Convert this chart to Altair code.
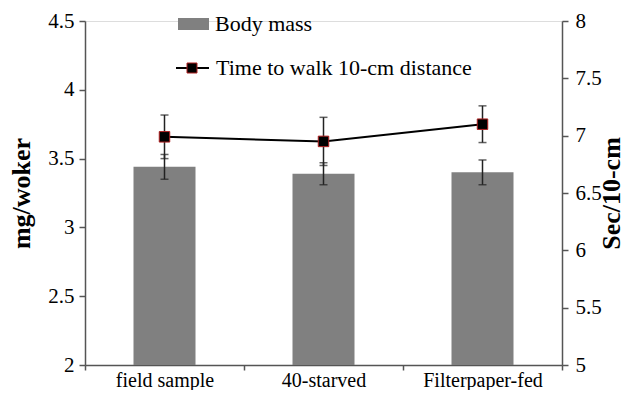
import altair as alt
import pandas as pd

categories = ["field sample", "40-starved", "Filterpaper-fed"]
body_mass = [3.44, 3.39, 3.40]
body_mass_err = [0.09, 0.08, 0.09]
walk_time = [6.99, 6.95, 7.10]
walk_time_err = [0.19, 0.21, 0.16]
legend_labels = ["Body mass", "Time to walk 10-cm distance"]

df = pd.DataFrame({
    "cat": categories,
    "bm": body_mass,
    "bm_lo": [v - e for v, e in zip(body_mass, body_mass_err)],
    "bm_hi": [v + e for v, e in zip(body_mass, body_mass_err)],
    "wt": walk_time,
    "wt_lo": [v - e for v, e in zip(walk_time, walk_time_err)],
    "wt_hi": [v + e for v, e in zip(walk_time, walk_time_err)],
})

FONT = "Liberation Serif"
AXC = "#555555"
ERR = "#222222"

x = alt.X("cat:N", sort=categories,
          scale=alt.Scale(paddingInner=0, paddingOuter=0),
          axis=alt.Axis(title=None, labelAngle=0, tickBand="extent",
                        labelFont=FONT, labelFontSize=20, labelColor="black",
                        labelPadding=0, tickSize=5, domainColor=AXC,
                        tickColor=AXC, domainWidth=1.5, tickWidth=1.5))

yl_scale = alt.Scale(domain=[2, 4.5], zero=False, nice=False)
yr_scale = alt.Scale(domain=[5, 8], zero=False, nice=False)

yl_axis = alt.Axis(title="mg/woker", orient="left", values=[2, 2.5, 3, 3.5, 4, 4.5],
                   format="~g",
                   labelFont=FONT, labelFontSize=21, labelColor="black",
                   titleFont=FONT, titleFontSize=26, titleFontWeight="bold",
                   titleColor="black", titleX=-51, tickSize=6, labelPadding=5,
                   domainColor=AXC, tickColor=AXC, domainWidth=1.5, tickWidth=1.5,
                   grid=False)
yr_axis = alt.Axis(title="Sec/10-cm", orient="right", values=[5, 5.5, 6, 6.5, 7, 7.5, 8],
                   format="~g",
                   labelFont=FONT, labelFontSize=21, labelColor="black",
                   titleFont=FONT, titleFontSize=26, titleFontWeight="bold",
                   titleColor="black", titleAngle=270, titleBaseline="bottom",
                   titleX=62, tickSize=6, labelPadding=7,
                   domainColor=AXC, tickColor=AXC, domainWidth=1.5, tickWidth=1.5,
                   grid=False)

base = alt.Chart(df)

bars = base.mark_bar(color="#808080", width=62).encode(
    x=x,
    y=alt.Y("bm:Q", scale=yl_scale, axis=yl_axis),
    y2=alt.Y2(datum=2),
)
bm_rule = base.mark_rule(color=ERR, strokeWidth=1.5).encode(
    x=x, y=alt.Y("bm_lo:Q", scale=yl_scale), y2="bm_hi:Q")
bm_cap_lo = base.mark_tick(color=ERR, size=8, thickness=1.5).encode(
    x=x, y=alt.Y("bm_lo:Q", scale=yl_scale))
bm_cap_hi = base.mark_tick(color=ERR, size=8, thickness=1.5).encode(
    x=x, y=alt.Y("bm_hi:Q", scale=yl_scale))

leg_df = pd.DataFrame({"label": legend_labels})
leg_rect = alt.Chart(leg_df.iloc[:1]).mark_rect(color="#808080").encode(
    x=alt.value(93), x2=alt.value(124), y=alt.value(-3), y2=alt.value(9))
leg_text1 = alt.Chart(leg_df.iloc[:1]).mark_text(
    align="left", baseline="middle", font=FONT, fontSize=22, color="black").encode(
    x=alt.value(130), y=alt.value(3), text="label:N")
leg_rule = alt.Chart(leg_df.iloc[1:]).mark_rule(color="black", strokeWidth=2).encode(
    x=alt.value(91), x2=alt.value(124), y=alt.value(47))
leg_sq = alt.Chart(leg_df.iloc[1:]).mark_square(
    size=100, color="black", opacity=1, stroke="#b02020", strokeWidth=1).encode(
    x=alt.value(107), y=alt.value(47))
leg_text2 = alt.Chart(leg_df.iloc[1:]).mark_text(
    align="left", baseline="middle", font=FONT, fontSize=22, color="black").encode(
    x=alt.value(131), y=alt.value(47), text="label:N")

left = alt.layer(bars, bm_rule, bm_cap_lo, bm_cap_hi,
                 leg_rect, leg_text1, leg_rule, leg_sq, leg_text2)

wt_rule = base.mark_rule(color=ERR, strokeWidth=1.5).encode(
    x=x, y=alt.Y("wt_lo:Q", scale=yr_scale, axis=yr_axis), y2="wt_hi:Q")
wt_cap_lo = base.mark_tick(color=ERR, size=8, thickness=1.5).encode(
    x=x, y=alt.Y("wt_lo:Q", scale=yr_scale))
wt_cap_hi = base.mark_tick(color=ERR, size=8, thickness=1.5).encode(
    x=x, y=alt.Y("wt_hi:Q", scale=yr_scale))
line = base.mark_line(color="black", strokeWidth=2).encode(
    x=x, y=alt.Y("wt:Q", scale=yr_scale))
pts = base.mark_square(size=110, color="black", opacity=1,
                       stroke="#b02020", strokeWidth=1).encode(
    x=x, y=alt.Y("wt:Q", scale=yr_scale))

right = alt.layer(wt_rule, wt_cap_lo, wt_cap_hi, line, pts)

chart = alt.layer(left, right).resolve_scale(y="independent").properties(
    width=477, height=344,
    autosize=alt.AutoSizeParams(type="none"),
    padding={"left": 77, "top": 13, "right": 63, "bottom": 25},
).configure_view(stroke=None).configure(background="white", font=FONT)

chart.save("out.html", embed_options={"renderer": "svg", "actions": False})
